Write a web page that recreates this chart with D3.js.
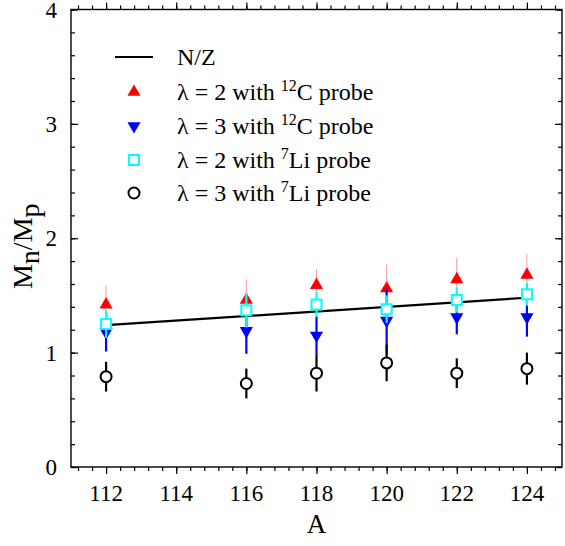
<!DOCTYPE html>
<html>
<head>
<meta charset="utf-8">
<script src="https://cdn.jsdelivr.net/npm/d3@7"></script>
<style>
  body { margin: 0; background: #fff; }
</style>
</head>
<body>
<div id="chart"></div>
<script>
// mass numbers
const masas = [112, 116, 118, 120, 122, 124];

// N/Z line (Sn, Z = 50)
const lineaA = [112, 124];
const lineaNZ = [1.24, 1.48];

// lambda = 2, 12C probe
const c12L2 = [1.42, 1.46, 1.59, 1.56, 1.64, 1.68];
const c12L2err = [0.17, 0.18, 0.14, 0.21, 0.19, 0.18];

// lambda = 3, 12C probe
const c12L3 = [1.18, 1.19, 1.15, 1.28, 1.31, 1.31];
const c12L3err = [0.17, 0.2, 0.17, 0.28, 0.15, 0.17];

// lambda = 2, 7Li probe
const li7L2 = [1.25, 1.37, 1.42, 1.38, 1.46, 1.51];
const li7L2err = [0.12, 0.15, 0.11, 0.12, 0.11, 0.1];

// lambda = 3, 7Li probe
const li7L3 = [0.79, 0.73, 0.82, 0.91, 0.82, 0.86];
const li7L3err = [0.13, 0.13, 0.16, 0.16, 0.13, 0.14];

const xTicks = [112, 114, 116, 118, 120, 122, 124];
const yTicks = [0, 1, 2, 3, 4];

const ancho = 565, alto = 546;
const margen = { left: 71, right: 3, top: 9.5, bottom: 79 };
const fuente = "Liberation Serif";

const svg = d3.select("#chart").append("svg")
    .attr("width", ancho)
    .attr("height", alto);

const x = d3.scaleLinear().domain([111, 125]).range([margen.left, ancho - margen.right]);
const y = d3.scaleLinear().domain([0, 4]).range([alto - margen.bottom, margen.top]);

// minor ticks: every 0.4 on x, 0.2 on y
const xMenor = d3.range(111.2, 125, 0.4).map(v => +v.toFixed(1));
const yMenor = d3.range(0, 4.01, 0.2).map(v => +v.toFixed(1));

function ejes() {
    const g = svg.append("g");
    const x0 = x.range()[0], x1 = x.range()[1];
    const y0 = y.range()[0], y1 = y.range()[1];

    // bottom / top
    [[y0, -1], [y1, 1]].forEach(([yy, dir]) => {
        g.append("g").attr("transform", `translate(0,${yy})`)
            .call(d3.axisBottom(x).tickValues(xMenor).tickSize(-4 * dir).tickFormat(""))
            .call(s => s.select(".domain").remove());
        g.append("g").attr("transform", `translate(0,${yy})`)
            .call(d3.axisBottom(x).tickValues(xTicks).tickSize(-7 * dir).tickFormat(""))
            .call(s => s.select(".domain").remove());
    });
    // left / right
    [[x0, 1], [x1, -1]].forEach(([xx, dir]) => {
        g.append("g").attr("transform", `translate(${xx},0)`)
            .call(d3.axisLeft(y).tickValues(yMenor).tickSize(-4 * dir).tickFormat(""))
            .call(s => s.select(".domain").remove());
        g.append("g").attr("transform", `translate(${xx},0)`)
            .call(d3.axisLeft(y).tickValues(yTicks).tickSize(-7 * dir).tickFormat(""))
            .call(s => s.select(".domain").remove());
    });
    g.selectAll(".tick line").attr("stroke", "#000").attr("stroke-width", 1.2);

    g.append("rect")
        .attr("x", x0).attr("y", y1)
        .attr("width", x1 - x0).attr("height", y0 - y1)
        .attr("fill", "none").attr("stroke", "#000").attr("stroke-width", 1.4);

    // tick labels
    g.selectAll(".xl").data(xTicks).enter().append("text")
        .attr("x", d => x(d)).attr("y", y0 + 34)
        .attr("text-anchor", "middle")
        .attr("font-family", fuente)
        .attr("font-size", 23)
        .text(d => d);
    g.selectAll(".yl").data(yTicks).enter().append("text")
        .attr("x", x0 - 14).attr("y", d => y(d) + 8)
        .attr("text-anchor", "end")
        .attr("font-family", fuente)
        .attr("font-size", 23)
        .text(d => d);

    // axis titles
    g.append("text")
        .attr("x", x(118)).attr("y", alto - 13)
        .attr("text-anchor", "middle")
        .attr("font-family", fuente)
        .attr("font-size", 27)
        .text("A");

    const ty = g.append("text")
        .attr("transform", `translate(32,${y(2) + 8}) rotate(-90)`)
        .attr("text-anchor", "middle")
        .attr("font-family", fuente)
        .attr("font-size", 28);
    ty.append("tspan").text("M");
    ty.append("tspan").attr("dy", 7).text("n");
    ty.append("tspan").attr("dy", -7).text("/M");
    ty.append("tspan").attr("dy", 7).text("p");
}

ejes();

// N/Z line
svg.append("path")
    .datum(lineaA.map((a, i) => [a, lineaNZ[i]]))
    .attr("d", d3.line().x(d => x(d[0])).y(d => y(d[1])))
    .attr("fill", "none")
    .attr("stroke", "#000")
    .attr("stroke-width", 2.2);

const tri = d3.symbol().type(d3.symbolTriangle).size(75);

function serie(vals, errs, colorErr, anchoErr, dibujar) {
    const datos = masas.map((a, i) => ({ a, v: vals[i], e: errs[i] }));
    const g = svg.append("g");
    g.selectAll("line").data(datos).enter().append("line")
        .attr("x1", d => x(d.a)).attr("x2", d => x(d.a))
        .attr("y1", d => y(d.v - d.e)).attr("y2", d => y(d.v + d.e))
        .attr("stroke", colorErr)
        .attr("stroke-width", anchoErr);
    dibujar(g.selectAll(".m").data(datos).enter(), d => x(d.a), d => y(d.v));
}

serie(c12L2, c12L2err, "#ff9a9a", 1, (sel, fx, fy) =>
    sel.append("path").attr("d", tri)
        .attr("transform", d => `translate(${fx(d)},${fy(d)})`)
        .attr("fill", "#ff0000"));

serie(c12L3, c12L3err, "#0000ff", 2.2, (sel, fx, fy) =>
    sel.append("path").attr("d", tri)
        .attr("transform", d => `translate(${fx(d)},${fy(d)}) rotate(180)`)
        .attr("fill", "#0000ff"));

serie(li7L2, li7L2err, "#00ffff", 2.2, (sel, fx, fy) =>
    sel.append("rect")
        .attr("x", d => fx(d) - 5).attr("y", d => fy(d) - 5)
        .attr("width", 10).attr("height", 10)
        .attr("fill", "#fff")
        .attr("stroke", "#00ffff").attr("stroke-width", 2));

serie(li7L3, li7L3err, "#000", 2.2, (sel, fx, fy) =>
    sel.append("circle")
        .attr("cx", fx).attr("cy", fy).attr("r", 5.5)
        .attr("fill", "#fff")
        .attr("stroke", "#000").attr("stroke-width", 2));

// legend
const leyenda = svg.append("g");
const filasY = [57, 92, 126, 160, 193];
const mx = 134, tx = 177;

leyenda.append("line")
    .attr("x1", 115).attr("x2", 153)
    .attr("y1", filasY[0]).attr("y2", filasY[0])
    .attr("stroke", "#000").attr("stroke-width", 2.2);
leyenda.append("path").attr("d", tri)
    .attr("transform", `translate(${mx},${filasY[1]})`).attr("fill", "#ff0000");
leyenda.append("path").attr("d", tri)
    .attr("transform", `translate(${mx},${filasY[2]}) rotate(180)`).attr("fill", "#0000ff");
leyenda.append("rect")
    .attr("x", mx - 5).attr("y", filasY[3] - 5).attr("width", 10).attr("height", 10)
    .attr("fill", "#fff").attr("stroke", "#00ffff").attr("stroke-width", 2);
leyenda.append("circle")
    .attr("cx", mx).attr("cy", filasY[4]).attr("r", 5.5)
    .attr("fill", "#fff").attr("stroke", "#000").attr("stroke-width", 2);

const etiquetas = [
    ["N/Z"],
    ["λ = 2 with ", "12", "C probe"],
    ["λ = 3 with ", "12", "C probe"],
    ["λ = 2 with ", "7", "Li probe"],
    ["λ = 3 with ", "7", "Li probe"]
];
etiquetas.forEach((partes, i) => {
    const t = leyenda.append("text")
        .attr("x", tx).attr("y", filasY[i] + 8)
        .attr("font-family", fuente)
        .attr("font-size", 24);
    t.append("tspan").text(partes[0]);
    if (partes.length > 1) {
        t.append("tspan").attr("dy", -9).attr("font-size", 16).text(partes[1]);
        t.append("tspan").attr("dy", 9).text(partes[2]);
    }
});
</script>
</body>
</html>
